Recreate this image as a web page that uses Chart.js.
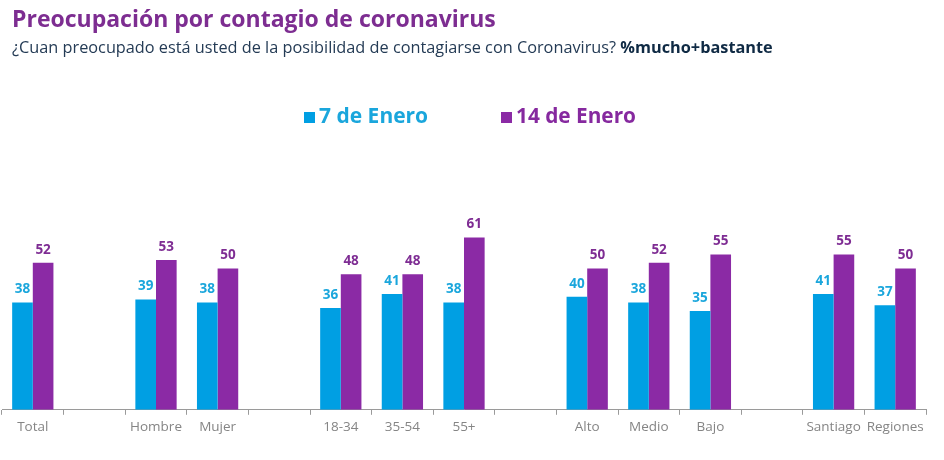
<!DOCTYPE html>
<html>
<head>
    <meta charset="utf-8">
    <title>Preocupación por contagio de coronavirus</title>
    <script src="https://cdn.jsdelivr.net/npm/chart.js"></script>
    <style>
        * {
            font-family: 'Open Sans', sans-serif;
        }
        body {
            margin: 0;
            background-color: #ffffff;
            width: 944px;
            height: 460px;
            overflow: hidden;
            position: relative;
        }
        .chart-container {
            position: absolute;
            left: 0;
            top: 0;
            width: 944px;
            height: 460px;
        }
        h1 {
            position: absolute;
            left: 12px;
            top: 2px;
            margin: 0;
            font-size: 23px;
            font-weight: 700;
            color: #7d2d91;
            white-space: nowrap;
        }
        .subtitle {
            position: absolute;
            left: 12px;
            top: 36px;
            margin: 0;
            font-size: 16.3px;
            color: #243b55;
            white-space: nowrap;
        }
        .subtitle b {
            color: #0f2a44;
        }
        .legend {
            position: absolute;
            top: 101px;
            font-weight: 700;
            white-space: nowrap;
        }
        .legend span.box {
            display: inline-block;
            width: 11px;
            height: 11px;
            margin-right: 4px;
        }
    </style>
</head>
<body>
<div class="chart-container">
    <canvas id="contagio_chart"></canvas>
</div>
<h1>Preocupación por contagio de coronavirus</h1>
<p class="subtitle">¿Cuan preocupado está usted de la posibilidad de contagiarse con Coronavirus? <b>%mucho+bastante</b></p>
<div class="legend" style="left:304px;color:#1aa6dc;font-size:21px;"><span class="box" style="background:#009fe3;"></span>7 de Enero</div>
<div class="legend" style="left:501px;color:#86299f;font-size:20.8px;"><span class="box" style="background:#8b2aa5;"></span>14 de Enero</div>

<script>
const categories = ['Total', '', 'Hombre', 'Mujer', '', '18-34', '35-54', '55+', '', 'Alto', 'Medio', 'Bajo', '', 'Santiago', 'Regiones'];
const enero7 = [38, null, 39, 38, null, 36, 41, 38, null, 40, 38, 35, null, 41, 37];
const enero14 = [52, null, 53, 50, null, 48, 48, 61, null, 50, 52, 55, null, 55, 50];

const blue = '#009fe3';
const purple = '#8b2aa5';
const blueText = '#1aa6dc';
const purpleText = '#7e2c93';

Chart.defaults.font.family = "'Open Sans', sans-serif";

// values above each bar
const valueLabels = {
    id: 'valueLabels',
    afterDatasetsDraw(chart) {
        const ctx = chart.ctx;
        ctx.save();
        ctx.font = 'bold 13.5px "Open Sans"';
        ctx.textAlign = 'center';
        ctx.textBaseline = 'middle';
        chart.data.datasets.forEach((ds, i) => {
            const meta = chart.getDatasetMeta(i);
            ctx.fillStyle = i === 0 ? blueText : purpleText;
            meta.data.forEach((bar, j) => {
                if (ds.data[j] === null) return;
                ctx.fillText(ds.data[j], bar.x, bar.y - 13);
            });
        });
        ctx.restore();
    }
};

const ctx = document.getElementById('contagio_chart').getContext('2d');
new Chart(ctx, {
    type: 'bar',
    data: {
        labels: categories,
        datasets: [{
            label: '7 de Enero',
            data: enero7,
            backgroundColor: blue
        }, {
            label: '14 de Enero',
            data: enero14,
            backgroundColor: purple
        }]
    },
    options: {
        responsive: true,
        maintainAspectRatio: false,
        animation: false,
        categoryPercentage: 0.67,
        barPercentage: 1,
        layout: {
            padding: { left: 2, right: 18, top: 212, bottom: 21 }
        },
        scales: {
            x: {
                grid: {
                    display: true,
                    drawOnChartArea: false,
                    drawTicks: true,
                    tickLength: 5,
                    color: '#9a9a9a'
                },
                border: {
                    display: true,
                    color: '#9a9a9a'
                },
                ticks: {
                    color: '#858585',
                    padding: 4,
                    autoSkip: false,
                    maxRotation: 0,
                    font: { size: 13.5 }
                }
            },
            y: {
                display: false,
                beginAtZero: true,
                min: 0,
                max: 70
            }
        },
        plugins: {
            legend: { display: false },
            tooltip: { enabled: false }
        }
    },
    plugins: [valueLabels]
});
</script>
</body>
</html>
